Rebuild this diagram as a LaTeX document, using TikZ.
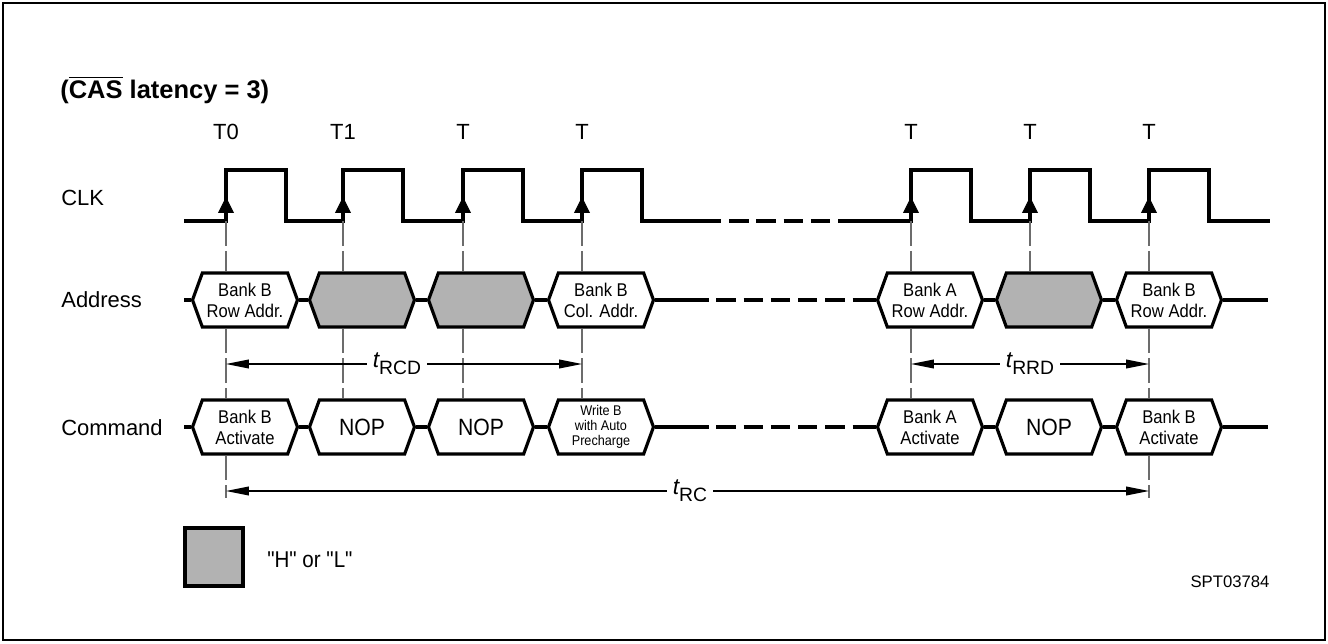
\documentclass[tikz,border=0pt]{standalone}
\usepackage{fontspec}
\setmainfont{Liberation Sans}
\newfontfamily\narrowfont{Liberation Sans}[FakeStretch=0.9,Ligatures=TeXOff]
\usetikzlibrary{arrows.meta,positioning,calc,shapes.symbols}
\definecolor{hlgray}{gray}{0.70}

\begin{document}
\begin{tikzpicture}[x=0.02cm,y=-0.02cm,
  every node/.style={font=\fontsize{12.5}{14}\selectfont},
  signame/.style={anchor=west,inner sep=0pt},
  wave/.style={line width=1.8pt},
  cell/.style={signal,draw,line width=1.8pt,signal to=east and west,
    signal pointer angle=140,minimum width=2.1cm,minimum height=1.08cm,
    inner sep=0pt,align=center,fill=white,font=\narrowfont\fontsize{10.5}{12}\selectfont},
  nop/.style={cell,font=\narrowfont\fontsize{13.4}{15}\selectfont},
  hl/.style={cell,fill=hlgray},
  guide/.style={gray!85!black,line width=0.6pt,dash pattern=on 14pt off 3pt},
  dim/.style={line width=0.6pt,-{Triangle[length=13pt,width=5pt]}},
  gap/.style={dash pattern=on 11pt off 4.5pt}]
\useasboundingbox (0,0) rectangle (1328,643);
\draw[line width=1.1pt] (3,3) rectangle (1325,640);

\node[signame,font=\fontsize{14.5}{16}\selectfont\bfseries] (title) at (60,90)
  {($\overline{\mbox{CAS}}$ latency = 3)};

% signal names
\node[signame] (clk) at (61,198) {CLK};
\node[signame] (addr) at (61,300) {Address};
\node[signame] (cmd) at (61,428) {Command};

% clock
\foreach \e [count=\i from 0] in {226,343,463,582,911,1030,1149}
  \coordinate (r\i) at (\e,221);
\foreach \i/\t in {0/T0,1/T1,2/T,3/T,4/T,5/T,6/T}
  \node (t\i) at (r\i |- 0,132) {\t};
\draw[wave] (184,221) foreach \e in {226,343,463,582} {
  -- (\e,221) -- (\e,170) -- (\e+60,170) -- (\e+60,221)} -- (702,221);
\draw[wave,gap] (702,221) -- (853,221);
\draw[wave] (853,221) foreach \e in {911,1030,1149} {
  -- (\e,221) -- (\e,170) -- (\e+60,170) -- (\e+60,221)} -- (1270,221);
\foreach \i in {0,...,6}
  \draw[line width=0.5pt,-{Triangle[length=9pt,width=9pt]}] (r\i) -- ++(0,-24);

% address bus
\node[cell] (a0) at (245,300) {Bank B\\Row Addr.};
\node[hl]   (a1) at (362,300) {};
\node[hl]   (a2) at (481,300) {};
\node[cell] (a3) at (601,300) {Bank B\\Col. Addr.};
\node[cell] (a4) at (930,300) {Bank A\\Row Addr.};
\node[hl]   (a5) at (1049,300) {};
\node[cell] (a6) at (1169,300) {Bank B\\Row Addr.};
\coordinate (abeg) at (184,300);
\coordinate (aend) at (1268,300);
\draw[wave] (abeg) -- (a0.west) (a0.east) -- (a1.west) (a1.east) -- (a2.west)
  (a2.east) -- (a3.west) (a4.east) -- (a5.west) (a5.east) -- (a6.west) (a6.east) -- (aend);
\draw[wave] (a3.east) -- ++(34,0) coordinate (ag1);
\draw[wave] (a4.west) -- ++(-16,0) coordinate (ag2);
\draw[wave,gap] (ag1) -- (ag2);

% command bus
\node[cell] (c0) at (245,427) {Bank B\\Activate};
\node[nop]  (c1) at (362,427) {NOP};
\node[nop]  (c2) at (481,427) {NOP};
\node[cell,font=\narrowfont\fontsize{8}{8.6}\selectfont] (c3) at (601,427) {Write B\\with Auto\\Precharge};
\node[cell] (c4) at (930,427) {Bank A\\Activate};
\node[nop]  (c5) at (1049,427) {NOP};
\node[cell] (c6) at (1169,427) {Bank B\\Activate};
\coordinate (cbeg) at (184,427);
\coordinate (cend) at (1268,427);
\draw[wave] (cbeg) -- (c0.west) (c0.east) -- (c1.west) (c1.east) -- (c2.west)
  (c2.east) -- (c3.west) (c4.east) -- (c5.west) (c5.east) -- (c6.west) (c6.east) -- (cend);
\draw[wave] (c3.east) -- ++(34,0) coordinate (cg1);
\draw[wave] (c4.west) -- ++(-16,0) coordinate (cg2);
\draw[wave,gap] (cg1) -- (cg2);

% guides
\foreach \i in {0,...,6}
  \draw[guide] (r\i) -- (r\i |- a\i.north);
\foreach \i in {0,1,2,3,4,6}
  \draw[guide] (r\i |- a\i.south) -- (r\i |- c\i.north);
\draw[guide] (r0 |- c0.south) -- (r0 |- 0,498);
\draw[guide] (r6 |- c6.south) -- (r6 |- 0,498);

% timings
\node (trcd) at (397,364) {\fontsize{13}{15}\selectfont\itshape t\raisebox{-4pt}{\fontsize{11}{13}\selectfont\upshape RCD}};
\draw[dim] (trcd) -- (r0 |- trcd);
\draw[dim] (trcd) -- (r3 |- trcd);
\node (trrd) at (1030,364) {\fontsize{13}{15}\selectfont\itshape t\raisebox{-4pt}{\fontsize{11}{13}\selectfont\upshape RRD}};
\draw[dim] (trrd) -- (r4 |- trrd);
\draw[dim] (trrd) -- (r6 |- trrd);
\node (trc) at (690,491) {\fontsize{13}{15}\selectfont\itshape t\raisebox{-4pt}{\fontsize{11}{13}\selectfont\upshape RC}};
\draw[dim] (trc) -- (r0 |- trc);
\draw[dim] (trc) -- (r6 |- trc);

% legend
\node[draw,line width=2pt,fill=hlgray,minimum size=1.16cm,inner sep=0pt] (key) at (214,557) {};
\node[signame,font=\narrowfont\fontsize{13}{15}\selectfont] (keytxt) at (267,560) {"H" or "L"};
\node[font=\fontsize{9.5}{11}\selectfont] (fig) at (1230,582) {SPT03784};
\end{tikzpicture}
\end{document}
